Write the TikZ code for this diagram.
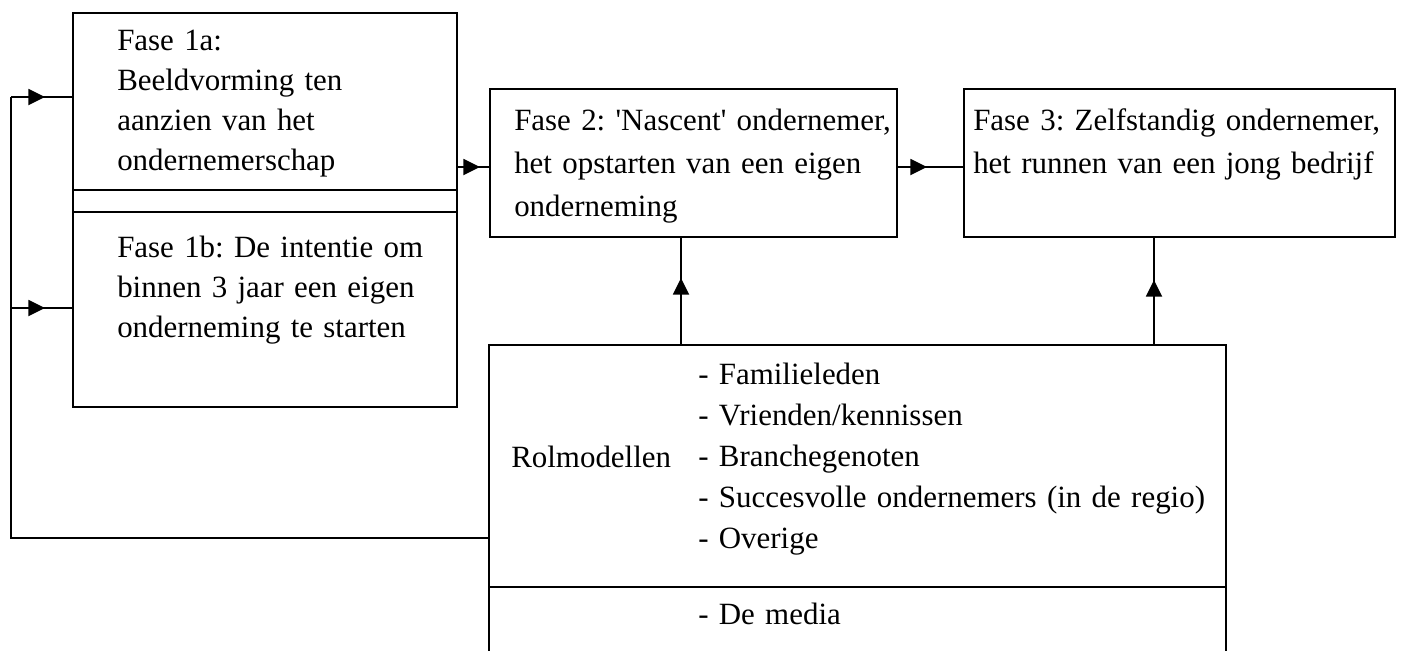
\documentclass[tikz,border=0pt]{standalone}
\usepackage{fontspec}
\setmainfont{Liberation Serif}[Ligatures=TeXOff]
\usetikzlibrary{arrows.meta,decorations.markings,fit}
\tikzset{
  box/.style={draw, line width=1.4pt, inner sep=0pt, outer sep=0pt},
  conn/.style={line width=1.4pt},
  midarr/.style={conn, postaction={decorate}, decoration={markings,
      mark=at position #1 with {\arrow{Triangle[length=12.5pt,width=12pt]}}}},
  txt/.style={anchor=base west, inner sep=0pt, align=left, text width=420pt,
      font=\fontsize{23.2pt}{#1}\selectfont\frenchspacing},
}
\begin{document}
\begin{tikzpicture}[x=0.75pt, y=-0.75pt]
\useasboundingbox (0,0) rectangle (1401,650);
\fill[white] (0,0) rectangle (1401,650);
\clip (0,0) rectangle (1401,650);

% boxes
\node[box, fit={(73,13) (457,190)}] (b1a) {};
\node[box, fit={(73,212) (457,407)}] (b1b) {};
\node[box, fit={(490,89) (897,237)}] (b2) {};
\node[box, fit={(964,89) (1395,237)}] (b3) {};
\node[box, fit={(489,345) (1226,700)}] (rol) {};

% gap sides between fase 1a and 1b
\draw[conn] (b1a.south west) -- (b1b.north west);
\draw[conn] (b1a.south east) -- (b1b.north east);
% separator in rolmodellen box
\coordinate (sepl) at (489,587);
\draw[conn] (sepl) -- (rol.east |- sepl);

% texts
\node[txt=30pt] (t1a) at (117,50) {Fase 1a:\\Beeldvorming ten\\aanzien van het\\ondernemerschap};
\node[txt=30pt] (t1b) at (117,257) {Fase 1b: De intentie om\\binnen 3 jaar een eigen\\onderneming te starten};
\node[txt=32.6pt] (t2) at (514,130) {Fase 2: 'Nascent' ondernemer,\\het opstarten van een eigen\\onderneming};
\node[txt=32.6pt] (t3) at (973,130) {Fase 3: Zelfstandig ondernemer,\\het runnen van een jong bedrijf};
\node[txt=30.75pt] (trol) at (511,467) {Rolmodellen};
\node[txt=30.75pt] (tlist) at (698,384) {- Familieleden\\- Vrienden/kennissen\\- Branchegenoten\\- Succesvolle ondernemers (in de regio)\\- Overige};
\node[txt=30.75pt] (tmedia) at (698,624) {- De media};

% feedback loop
\coordinate (c0) at (11,538);
\coordinate (c1) at (11,97);
\coordinate (c2) at (11,308);
\draw[conn] (rol.west |- c0) -- (c0) -- (c1);
\draw[midarr=25.5pt] (c1) -- (b1a.west |- c1);
\draw[midarr=25.5pt] (c2) -- (b1b.west |- c2);

% forward arrows
\coordinate (h) at (0,167);
\draw[midarr=17.25pt] (b1a.east |- h) -- (b2.west |- h);
\draw[midarr=22.5pt] (b2.east |- h) -- (b3.west |- h);

% upward arrows
\coordinate (v2) at (681,0);
\coordinate (v3) at (1154,0);
\draw[midarr=50.25pt] (rol.north -| v2) -- (b2.south -| v2);
\draw[midarr=48.75pt] (rol.north -| v3) -- (b3.south -| v3);
\end{tikzpicture}
\end{document}
